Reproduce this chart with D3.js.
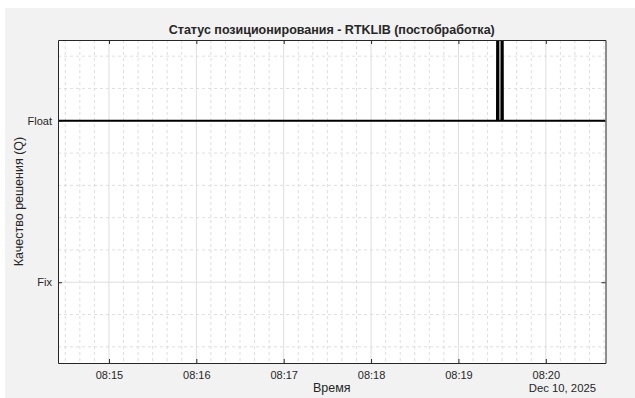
<!DOCTYPE html>
<html>
<head>
<meta charset="utf-8">
<script src="https://d3js.org/d3.v7.min.js"></script>
<style>
  body { margin: 0; background: #fff; }
  svg text { font-family: "Liberation Sans", Arial, sans-serif; fill: #262626; }
</style>
</head>
<body>
<svg id="chart" width="635" height="398"></svg>
<script>
// solution quality samples (1 = Fix, 2 = Float, 5 = Single)
var qTimes  = ["08:14:25", "08:19:26.5", "08:19:27", "08:19:27.5", "08:19:29.5", "08:19:30", "08:19:30.5", "08:20:41"];
var qValues = [2, 2, 5, 2, 2, 5, 2, 2];
var yTickValues = [1, 2];
var yTickLabels = ["Fix", "Float"];
var xTickTimes = ["08:15", "08:16", "08:17", "08:18", "08:19", "08:20"];
var dateLabel = "Dec 10, 2025";

function toDate(s) {
  var p = s.split(":").map(Number);
  var sec = p[2] || 0;
  return new Date(2025, 11, 10, p[0], p[1], Math.floor(sec), Math.round((sec % 1) * 1000));
}
var data = qTimes.map(function(t, i) { return { t: toDate(t), q: qValues[i] }; });

var pLeft = 58, pRight = 605.5, pTop = 40, pBottom = 363;

var svg = d3.select("#chart");
svg.append("rect").attr("x", 5).attr("y", 8).attr("width", 630).attr("height", 390).attr("fill", "#f2f2f2");
svg.append("rect").attr("x", pLeft).attr("y", pTop).attr("width", pRight - pLeft).attr("height", pBottom - pTop).attr("fill", "#fff");

var x = d3.scaleTime()
  .domain([data[0].t, data[data.length - 1].t])
  .range([pLeft, pRight]);
var y = d3.scaleLinear()
  .domain([0.5, 2.5])
  .range([pBottom, pTop]);

// minor grid
var xMinor = d3.timeSecond.every(10).range(x.domain()[0], x.domain()[1]);
svg.append("g").selectAll("line")
  .data(xMinor.filter(function(d) { return d.getSeconds() != 0; }))
  .enter().append("line")
  .attr("x1", function(d) { return x(d); }).attr("x2", function(d) { return x(d); })
  .attr("y1", pTop).attr("y2", pBottom)
  .attr("stroke", "#d6d6d6").attr("stroke-dasharray", "3,3").attr("stroke-width", 0.8);
var yMinor = d3.range(6, 25, 2).map(function(v) { return v / 10; }).filter(function(v) { return v != 1 && v != 2; });
svg.append("g").selectAll("line")
  .data(yMinor)
  .enter().append("line")
  .attr("x1", pLeft).attr("x2", pRight)
  .attr("y1", function(d) { return y(d); }).attr("y2", function(d) { return y(d); })
  .attr("stroke", "#d6d6d6").attr("stroke-dasharray", "3,3").attr("stroke-width", 0.8);

// major grid
var xMajor = xTickTimes.map(toDate);
svg.append("g").selectAll("line")
  .data(xMajor)
  .enter().append("line")
  .attr("x1", function(d) { return x(d); }).attr("x2", function(d) { return x(d); })
  .attr("y1", pTop).attr("y2", pBottom)
  .attr("stroke", "#dedede");
svg.append("g").selectAll("line")
  .data(yTickValues)
  .enter().append("line")
  .attr("x1", pLeft).attr("x2", pRight)
  .attr("y1", function(d) { return y(d); }).attr("y2", function(d) { return y(d); })
  .attr("stroke", "#dedede");

// data line
svg.append("clipPath").attr("id", "clip")
  .append("rect").attr("x", pLeft).attr("y", pTop).attr("width", pRight - pLeft).attr("height", pBottom - pTop);
var line = d3.line()
  .x(function(d) { return x(d.t); })
  .y(function(d) { return y(d.q); });
svg.append("path")
  .datum(data)
  .attr("clip-path", "url(#clip)")
  .attr("fill", "none")
  .attr("stroke", "#000")
  .attr("stroke-width", 2)
  .attr("d", line);

// axes (MATLAB style, ticks inside)
var fmt = d3.timeFormat("%H:%M");
function styleAxis(g) {
  g.select(".domain").attr("stroke", "#262626");
  g.selectAll(".tick line").attr("stroke", "#262626");
  g.selectAll("text").attr("font-size", 11).attr("fill", "#262626").attr("font-family", null);
}
svg.append("g")
  .attr("transform", "translate(0," + pBottom + ")")
  .call(d3.axisBottom(x).tickValues(xMajor).tickFormat(fmt).tickSizeInner(-4).tickSizeOuter(0).tickPadding(8))
  .call(styleAxis);
svg.append("g")
  .attr("transform", "translate(0," + pTop + ")")
  .call(d3.axisTop(x).tickValues(xMajor).tickFormat("").tickSizeInner(-4).tickSizeOuter(0))
  .call(styleAxis);
svg.append("g")
  .attr("transform", "translate(" + pLeft + ",0)")
  .call(d3.axisLeft(y).tickValues(yTickValues).tickFormat(function(d, i) { return yTickLabels[i]; }).tickSizeInner(-4).tickSizeOuter(0).tickPadding(6))
  .call(styleAxis);
svg.append("g")
  .attr("transform", "translate(" + pRight + ",0)")
  .call(d3.axisRight(y).tickValues(yTickValues).tickFormat("").tickSizeInner(-4).tickSizeOuter(0))
  .call(styleAxis);

// titles
svg.append("text")
  .attr("x", (pLeft + pRight) / 2).attr("y", 34)
  .attr("text-anchor", "middle").attr("font-size", 12.5).attr("font-weight", "bold")
  .text("Статус позиционирования - RTKLIB (постобработка)");
svg.append("text")
  .attr("x", (pLeft + pRight) / 2).attr("y", 391.5)
  .attr("text-anchor", "middle").attr("font-size", 12.5)
  .text("Время");
svg.append("text")
  .attr("x", 596).attr("y", 392)
  .attr("text-anchor", "end").attr("font-size", 11.3)
  .text(dateLabel);
svg.append("text")
  .attr("transform", "translate(23," + (pTop + pBottom) / 2 + ") rotate(-90)")
  .attr("text-anchor", "middle").attr("font-size", 12.5)
  .text("Качество решения (Q)");
</script>
</body>
</html>
